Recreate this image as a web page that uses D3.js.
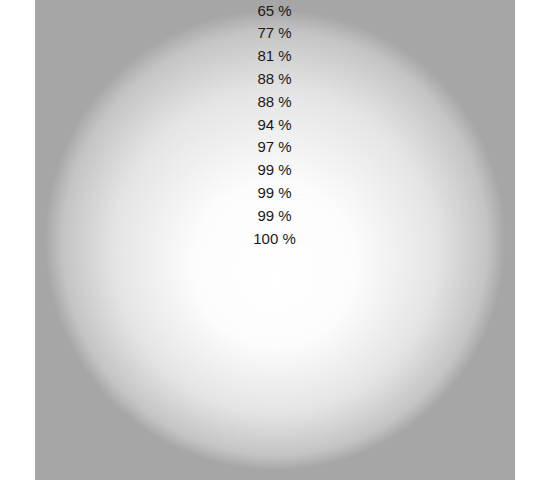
<!DOCTYPE html>
<html>
<head>
<meta charset="utf-8">
<script src="https://d3js.org/d3.v7.min.js"></script>
<style>
  body { margin: 0; background: #fff; }
</style>
</head>
<body>
<div id="chart"></div>
<script>
// percentages shown as the stacked list of labels
var labels = ["65 %", "77 %", "81 %", "88 %", "88 %", "94 %", "97 %", "99 %", "99 %", "99 %", "100 %"]
var values = [65, 77, 81, 88, 88, 94, 97, 99, 99, 99, 100]

var W = 550, H = 480
var svg = d3.select("#chart").append("svg")
  .attr("width", W).attr("height", H)

/* background gradient panel */
var defs = svg.append("defs")
var grad = defs.append("radialGradient")
  .attr("id", "glow")
  .attr("cx", "50%").attr("cy", "50%").attr("r", "48%")
  .attr("fx", "50%").attr("fy", "58%")
grad.append("stop").attr("offset", "0%").attr("stop-color", "#ffffff")
grad.append("stop").attr("offset", "35%").attr("stop-color", "#fcfcfc")
grad.append("stop").attr("offset", "70%").attr("stop-color", "#e4e4e4")
grad.append("stop").attr("offset", "92%").attr("stop-color", "#c4c4c4")
grad.append("stop").attr("offset", "100%").attr("stop-color", "#a6a6a6")

var x0 = 35, size = 480
svg.append("rect")
  .attr("x", x0).attr("y", 0)
  .attr("width", size).attr("height", size)
  .attr("fill", "url(#glow)")

/* labels */
var y = d3.scalePoint()
  .domain(d3.range(values.length))
  .range([10.3, 238.3])

svg.append("g").selectAll("text")
  .data(values).enter()
    .append("text")
    .attr("x", x0 + size / 2 - 0.5)
    .attr("y", (d, i) => y(i))
    .attr("dy", "0.35em")
    .attr("text-anchor", "middle")
    .attr("fill", "#1a1a1a")
    .style("font-family", "'Liberation Sans', Arial, sans-serif")
    .style("font-size", "15px")
    .text((d, i) => labels[i])
</script>
</body>
</html>
